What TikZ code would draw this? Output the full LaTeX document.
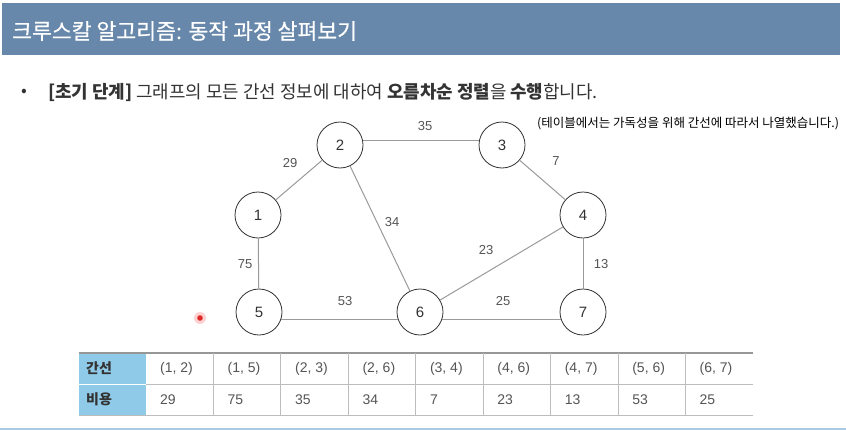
\documentclass[tikz,border=0pt]{standalone}
\usepackage{fontspec}
\setmainfont{Liberation Sans}
\newfontfamily\kr{Noto Sans CJK KR}
\newfontfamily\krt[FakeBold=0.5]{Noto Sans CJK KR}
\definecolor{hdr}{HTML}{6788AA}
\definecolor{edgegray}{HTML}{9A9A9A}
\definecolor{txt}{HTML}{333333}
\definecolor{lbl}{HTML}{555555}
\definecolor{cellblue}{HTML}{8FCBE8}
\definecolor{grid}{HTML}{BDBDBD}
\definecolor{rulecol}{HTML}{A9CBE6}
\tikzset{
  vtx/.style={circle, draw=txt, line width=0.8pt, minimum size=46pt, inner sep=0pt,
    text=txt, font=\fontsize{15}{15}\selectfont},
  edge/.style={draw=edgegray, line width=1pt},
  elab/.style={text=lbl, inner sep=0pt, font=\fontsize{13}{13}\selectfont},
  cell/.style={anchor=west, inner sep=0pt, text=lbl, font=\fontsize{14}{14}\selectfont},
  hcell/.style={anchor=west, inner sep=0pt, text=txt, font=\kr\bfseries\fontsize{14}{14}\selectfont}
}
\begin{document}
\begin{tikzpicture}[x=1pt,y=-1pt]
\useasboundingbox (0,0) rectangle (846,431);
\fill[white] (0,0) rectangle (846,431);
% header band
\fill[hdr] (2,3) rectangle (840,55);
\node[anchor=west, inner sep=0pt, text=white, font=\krt\fontsize{21.6}{21.6}\selectfont] (title) at (12,31) {크루스칼 알고리즘: 동작 과정 살펴보기};
% bullet
\node[anchor=west, inner sep=0pt, text=txt, font=\kr\fontsize{17}{17}\selectfont] (bullet) at (21,93) {•};
\node[anchor=west, inner sep=0pt, text=txt, font=\kr\fontsize{17.9}{17.9}\selectfont] (line1) at (48,93)
  {\textbf{[초기 단계]} 그래프의 모든 간선 정보에 대하여 \textbf{오름차순 정렬}을 \textbf{수행}합니다.};
\node[anchor=west, inner sep=0pt, text=black, font=\kr\fontsize{12.5}{12.5}\selectfont] (note) at (537,124)
  {(테이블에서는 가독성을 위해 간선에 따라서 나열했습니다.)};
% vertices
\node[vtx] (n1) at (258,215) {1};
\node[vtx] (n2) at (340,145) {2};
\node[vtx] (n3) at (502,145) {3};
\node[vtx] (n4) at (583,215) {4};
\node[vtx] (n5) at (259,312) {5};
\node[vtx] (n6) at (420,312) {6};
\node[vtx] (n7) at (583,312) {7};
% edges
\draw[edge] (n1) -- (n2);
\draw[edge] (n2.10) -- (n3.170);
\draw[edge] (n3) -- (n4);
\draw[edge] (n2) -- (n6);
\draw[edge] (n4) -- (n6);
\draw[edge] (n4) -- (n7);
\draw[edge] (n1) -- (n5);
\draw[edge] (n5.-18) -- (n6.198);
\draw[edge] (n6.-18) -- (n7.198);
% edge weights
\node[elab] (w12) at (290,163) {29};
\node[elab] (w23) at (425,126) {35};
\node[elab] (w34) at (556,161) {7};
\node[elab] (w26) at (392,222) {34};
\node[elab] (w46) at (486,250) {23};
\node[elab] (w47) at (601,264) {13};
\node[elab] (w15) at (245,264) {75};
\node[elab] (w56) at (345,301) {53};
\node[elab] (w67) at (503,301) {25};
% pointer dot
\fill[red, opacity=0.18] (200,318) circle (6);
\fill[red!85!black, opacity=0.8] (200,318) circle (2.8);
% table
\fill[cellblue] (79,353) rectangle (146,415);
\draw[white, line width=1pt] (79,384) -- (146,384);
\draw[grid, line width=0.8pt] (146,384) -- (753,384);
\draw[grid, line width=0.8pt] (79,415) -- (753,415);
\draw[grid!80!black, line width=1.6pt] (79,353) -- (753,353);
\foreach \k in {1,...,8}{
  \draw[grid, line width=0.8pt] (146+67.44*\k,353) -- (146+67.44*\k,415);
}
\node[hcell] (h1) at (86,368.5) {간선};
\node[hcell] (h2) at (86,399.5) {비용};
\node[cell] (e1) at (160,368.5) {(1, 2)};
\node[cell] (e2) at (227.4,368.5) {(1, 5)};
\node[cell] (e3) at (294.9,368.5) {(2, 3)};
\node[cell] (e4) at (362.3,368.5) {(2, 6)};
\node[cell] (e5) at (429.8,368.5) {(3, 4)};
\node[cell] (e6) at (497.2,368.5) {(4, 6)};
\node[cell] (e7) at (564.6,368.5) {(4, 7)};
\node[cell] (e8) at (632.1,368.5) {(5, 6)};
\node[cell] (e9) at (699.5,368.5) {(6, 7)};
\node[cell] (c1) at (160,399.5) {29};
\node[cell] (c2) at (227.4,399.5) {75};
\node[cell] (c3) at (294.9,399.5) {35};
\node[cell] (c4) at (362.3,399.5) {34};
\node[cell] (c5) at (429.8,399.5) {7};
\node[cell] (c6) at (497.2,399.5) {23};
\node[cell] (c7) at (564.6,399.5) {13};
\node[cell] (c8) at (632.1,399.5) {53};
\node[cell] (c9) at (699.5,399.5) {25};
% bottom rule
\draw[rulecol, line width=2pt] (0,429) -- (846,429);
\end{tikzpicture}
\end{document}
